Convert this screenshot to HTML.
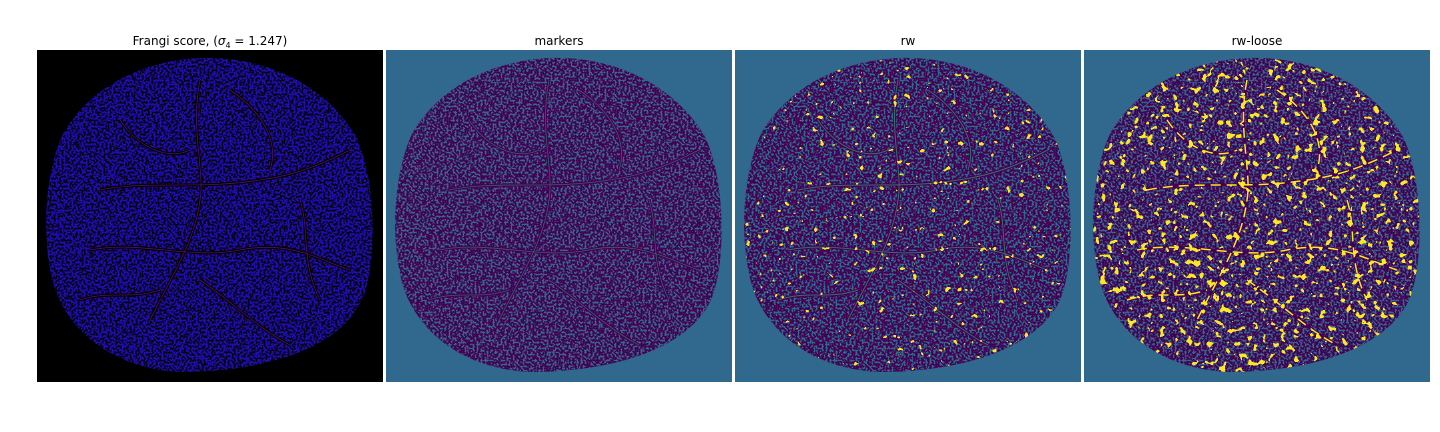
<!DOCTYPE html>
<html><head><meta charset="utf-8"><style>
html,body{margin:0;padding:0;background:#fff;}
svg{display:block;font-family:"DejaVu Sans","Liberation Sans",sans-serif;}
</style></head><body>
<svg width="1440" height="432" viewBox="0 0 1440 432">
<defs>
  <clipPath id="blob"><path d="M200,58 C268,56 325,86 355,135 C376,175 378,262 362,300 C338,350 262,372 180,372 C112,368 72,332 56,292 C40,245 44,172 64,132 C94,82 150,60 200,58 Z"/></clipPath>
  <filter id="noiseA" x="0" y="0" width="100%" height="100%" filterUnits="userSpaceOnUse">
    <feTurbulence type="fractalNoise" baseFrequency="0.5" numOctaves="1" seed="3"/>
    <feColorMatrix type="matrix" values="0 0 0 0 1  0 0 0 0 1  0 0 0 0 1  8 0 0 0 -3.8"/>
    <feComponentTransfer><feFuncA type="discrete" tableValues="0 1"/></feComponentTransfer>
  </filter>
  <filter id="noiseB" x="0" y="0" width="100%" height="100%" filterUnits="userSpaceOnUse">
    <feTurbulence type="fractalNoise" baseFrequency="0.5" numOctaves="1" seed="5"/>
    <feColorMatrix type="matrix" values="0 0 0 0 1  0 0 0 0 1  0 0 0 0 1  8 0 0 0 -3.4"/>
    <feComponentTransfer><feFuncA type="discrete" tableValues="0 1"/></feComponentTransfer>
  </filter>
  <filter id="noiseY" x="0" y="0" width="100%" height="100%" filterUnits="userSpaceOnUse">
    <feTurbulence type="fractalNoise" baseFrequency="0.15" numOctaves="2" seed="7"/>
    <feColorMatrix type="matrix" values="0 0 0 0 1  0 0 0 0 1  0 0 0 0 1  10 0 0 0 -6.0"/>
    <feComponentTransfer><feFuncA type="discrete" tableValues="0 1"/></feComponentTransfer>
  </filter>
  <filter id="noiseY2" x="0" y="0" width="100%" height="100%" filterUnits="userSpaceOnUse">
    <feTurbulence type="fractalNoise" baseFrequency="0.15" numOctaves="2" seed="11"/>
    <feColorMatrix type="matrix" values="0 0 0 0 1  0 0 0 0 1  0 0 0 0 1  10 0 0 0 -6.9"/>
    <feComponentTransfer><feFuncA type="discrete" tableValues="0 1"/></feComponentTransfer>
  </filter>
  <mask id="mA" maskUnits="userSpaceOnUse" x="0" y="0" width="1440" height="432"><rect x="0" y="0" width="1440" height="432" fill="#fff" filter="url(#noiseA)"/></mask>
  <mask id="mB" maskUnits="userSpaceOnUse" x="0" y="0" width="1440" height="432"><rect x="0" y="0" width="1440" height="432" fill="#fff" filter="url(#noiseB)"/></mask>
  <mask id="mY" maskUnits="userSpaceOnUse" x="0" y="0" width="1440" height="432"><rect x="0" y="0" width="1440" height="432" fill="#fff" filter="url(#noiseY)"/></mask>
  <mask id="mY2" maskUnits="userSpaceOnUse" x="0" y="0" width="1440" height="432"><rect x="0" y="0" width="1440" height="432" fill="#fff" filter="url(#noiseY2)"/></mask>
  <g id="vessels" fill="none">
    <path d="M200,80 C190,130 205,170 200,200 C195,240 175,270 150,320"/>
    <path d="M100,190 C150,180 200,190 260,180 C300,175 330,160 350,150"/>
    <path d="M90,250 C140,240 190,260 240,250 C290,240 320,260 350,270"/>
    <path d="M230,90 C260,110 280,140 270,170"/>
    <path d="M120,120 C140,150 170,160 190,150"/>
    <path d="M200,280 C230,300 260,330 290,345"/>
    <path d="M80,300 C110,290 130,300 160,290"/>
    <path d="M300,200 C310,230 300,260 320,300"/>
  </g>
</defs>

<g>
  <text x="210" y="45" text-anchor="middle" font-size="12">Frangi score, (<tspan font-style="italic">σ</tspan><tspan font-size="8" dy="3">4</tspan><tspan dy="-3"> = 1.247)</tspan></text>
  <rect x="37" y="50" width="346" height="332" fill="#000"/>
  <g clip-path="url(#blob)">
    <rect x="37" y="50" width="346" height="332" fill="#05021a"/>
    <rect x="37" y="50" width="346" height="332" fill="#1e0fa8" mask="url(#mB)"/>
    <use href="#vessels" stroke="#000" stroke-width="3"/>
    <use href="#vessels" stroke="#8a1fa0" stroke-width="0.8" opacity="0.6"/>
  </g>
</g>

<g transform="translate(349,0)">
  <text x="210" y="45" text-anchor="middle" font-size="12">markers</text>
  <rect x="37" y="50" width="346" height="332" fill="#31688e"/>
  <g clip-path="url(#blob)">
    <rect x="37" y="50" width="346" height="332" fill="#440154"/>
    <rect x="-312" y="50" width="1440" height="332" fill="#31688e" mask="url(#mA)"/>
    <use href="#vessels" stroke="#440154" stroke-width="3"/>
    <use href="#vessels" stroke="#35b779" stroke-width="0.8" opacity="0.5"/>
  </g>
</g>
<g transform="translate(698,0)">
  <text x="210" y="45" text-anchor="middle" font-size="12">rw</text>
  <rect x="37" y="50" width="346" height="332" fill="#31688e"/>
  <g clip-path="url(#blob)">
    <rect x="37" y="50" width="346" height="332" fill="#440154"/>
    <rect x="-661" y="50" width="1440" height="332" fill="#31688e" mask="url(#mA)"/>
    <use href="#vessels" stroke="#440154" stroke-width="3"/>
    <use href="#vessels" stroke="#35b779" stroke-width="1" opacity="0.6"/>
    <rect x="-661" y="50" width="1440" height="332" fill="#fde725" mask="url(#mY2)"/>
  </g>
</g>
<g transform="translate(1047,0)">
  <text x="210" y="45" text-anchor="middle" font-size="12">rw-loose</text>
  <rect x="37" y="50" width="346" height="332" fill="#31688e"/>
  <g clip-path="url(#blob)">
    <rect x="37" y="50" width="346" height="332" fill="#440154"/>
    <rect x="-1010" y="50" width="1440" height="332" fill="#31688e" mask="url(#mA)"/>
    <use href="#vessels" stroke="#440154" stroke-width="3"/>
    <use href="#vessels" stroke="#fde725" stroke-width="1.5" stroke-dasharray="10 6"/>
    <rect x="-1010" y="50" width="1440" height="332" fill="#fde725" mask="url(#mY)"/>
  </g>
</g>
</svg>
</body></html>
